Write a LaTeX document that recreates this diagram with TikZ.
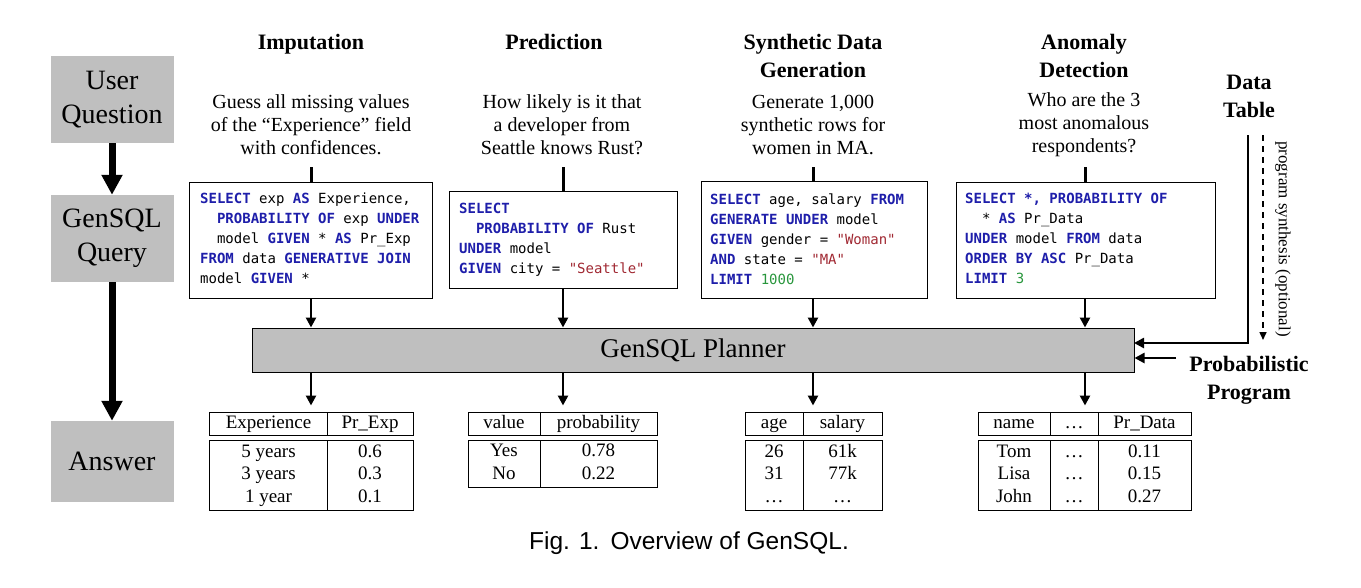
\documentclass[tikz,border=0pt]{standalone}
\usepackage{fontspec}
\setmainfont{Liberation Serif}
\setmonofont{DejaVu Sans Mono}
\newfontfamily\capfont{Liberation Sans}
\usetikzlibrary{arrows.meta}
\definecolor{boxgray}{RGB}{191,191,191}
\definecolor{kwblue}{RGB}{30,30,170}
\definecolor{strred}{RGB}{160,40,50}
\definecolor{numgreen}{RGB}{40,150,60}
\newcommand\kw[1]{\textcolor{kwblue}{\textbf{#1}}}
\newcommand\sqlstr[1]{\textcolor{strred}{#1}}
\newcommand\numc[1]{\textcolor{numgreen}{#1}}
\tikzset{
  lbox/.style={fill=boxgray, minimum width=123pt, inner sep=0, font=\fontsize{28}{34}\selectfont, align=center},
  ttl/.style={font=\fontsize{22}{28}\selectfont\bfseries, align=center},
  question/.style={font=\fontsize{20}{23}\selectfont, align=center},
  codebox/.style={draw, line width=1pt, inner sep=0},
  code/.style={anchor=north west, inner sep=0, align=left, font=\fontsize{14}{20}\selectfont\ttfamily},
  bigarr/.style={line width=7pt, -{Triangle[length=20pt,width=20pt]}},
  arr/.style={line width=2.8pt, -{Triangle[length=10pt,width=10pt]}},
  tickline/.style={line width=3pt},
  cell/.style={draw, line width=1pt, inner sep=0, font=\fontsize{19}{22.5}\selectfont, align=center},
  hcell/.style={cell, minimum height=23pt, text height=13pt, text depth=4pt},
}
\begin{document}
\begin{tikzpicture}[x=1pt,y=-1pt]
\useasboundingbox (0,0) rectangle (1361,587);

% left column
\node[lbox, minimum height=87pt] (uq) at (112,99.5) {User\\Question};
\node[lbox, minimum height=87pt] (gq) at (112,238.5) {GenSQL\\Query};
\node[lbox, minimum height=81pt] (ans) at (112,461.5) {Answer};
\draw[bigarr] (uq.south) -- (gq.north);
\draw[bigarr] (gq.south) -- (ans.north);

% titles
\node[ttl, anchor=base] (t1) at (311,49) {Imputation};
\node[ttl, anchor=base] (t2) at (554,49) {Prediction};
\node[ttl] (t3) at (813,56) {Synthetic Data\\Generation};
\node[ttl] (t4) at (1084,56) {Anomaly\\Detection};

% questions
\node[question] (q1) at (311,125) {Guess all missing values\\of the ``Experience'' field\\with confidences.};
\node[question] (q2) at (562,125) {How likely is it that\\a developer from\\Seattle knows Rust?};
\node[question] (q3) at (813,125) {Generate 1,000\\synthetic rows for\\women in MA.};
\node[question] (q4) at (1084,125) {Who are the 3\\most anomalous\\respondents?};

% code boxes
\node[codebox, minimum width=243pt, minimum height=116pt] (c1) at (310.5,240) {};
\node[codebox, minimum width=228pt, minimum height=97pt] (c2) at (563,239.5) {};
\node[codebox, minimum width=226pt, minimum height=117pt] (c3) at (814,239.5) {};
\node[codebox, minimum width=259pt, minimum height=116pt] (c4) at (1085.5,240) {};

\node[code] (k1) at (200,193) {\kw{SELECT} exp \kw{AS} Experience,\\
\hphantom{xx}\kw{PROBABILITY OF} exp \kw{UNDER}\\
\hphantom{xx}model \kw{GIVEN} * \kw{AS} Pr\_Exp\\
\kw{FROM} data \kw{GENERATIVE JOIN}\\
model \kw{GIVEN} *};
\node[code] (k2) at (459,203) {\kw{SELECT}\\
\hphantom{xx}\kw{PROBABILITY OF} Rust\\
\kw{UNDER} model\\
\kw{GIVEN} city = \sqlstr{"Seattle"}};
\node[code] (k3) at (710,193.5) {\kw{SELECT} age, salary \kw{FROM}\\
\kw{GENERATE UNDER} model\\
\kw{GIVEN} gender = \sqlstr{"Woman"}\\
\kw{AND} state = \sqlstr{"MA"}\\
\kw{LIMIT} \numc{1000}};
\node[code] (k4) at (965,193) {\kw{SELECT *, PROBABILITY OF}\\
\hphantom{xx}* \kw{AS} Pr\_Data\\
\kw{UNDER} model \kw{FROM} data\\
\kw{ORDER BY ASC} Pr\_Data\\
\kw{LIMIT} \numc{3}};

% ticks
\coordinate (tk1) at (311,167);
\coordinate (tk2) at (563,167);
\coordinate (tk3) at (813,167);
\coordinate (tk4) at (1085,167);
\draw[tickline] (tk1) -- (tk1 |- c1.north);
\draw[tickline] (tk2) -- (tk2 |- c2.north);
\draw[tickline] (tk3) -- (tk3 |- c3.north);
\draw[tickline] (tk4) -- (tk4 |- c4.north);

% planner
\node[draw, line width=1pt, fill=boxgray, minimum width=882pt, minimum height=44pt, inner sep=0,
      font=\fontsize{27}{30}\selectfont] (pl) at (693,350) {GenSQL Planner};

\draw[arr] (tk1 |- c1.south) -- (tk1 |- pl.north);
\draw[arr] (tk2 |- c2.south) -- (tk2 |- pl.north);
\draw[arr] (tk3 |- c3.south) -- (tk3 |- pl.north);
\draw[arr] (tk4 |- c4.south) -- (tk4 |- pl.north);

% tables: imputation
\node[hcell, minimum width=118pt] (a1h1) at (268.5,423.5) {Experience};
\node[hcell, minimum width=86pt] (a1h2) at (370,423.5) {Pr\_Exp};
\node[cell, minimum width=118pt, minimum height=70pt] (a1b1) at (268.5,475) {\strut 5 years\\\strut 3 years\\\strut 1 year};
\node[cell, minimum width=86pt, minimum height=70pt] (a1b2) at (370,475) {\strut 0.6\\\strut 0.3\\\strut 0.1};
% prediction
\node[hcell, minimum width=72pt] (a2h1) at (504,423.5) {value};
\node[hcell, minimum width=117pt] (a2h2) at (598.5,423.5) {probability};
\node[cell, minimum width=72pt, minimum height=47pt] (a2b1) at (504,463.5) {\strut Yes\\\strut No};
\node[cell, minimum width=117pt, minimum height=47pt] (a2b2) at (598.5,463.5) {\strut 0.78\\\strut 0.22};
% synthetic
\node[hcell, minimum width=58pt] (a3h1) at (774,423.5) {age};
\node[hcell, minimum width=79pt] (a3h2) at (842.5,423.5) {salary};
\node[cell, minimum width=58pt, minimum height=70pt] (a3b1) at (774,475) {\strut 26\\\strut 31\\\strut\dots};
\node[cell, minimum width=79pt, minimum height=70pt] (a3b2) at (842.5,475) {\strut 61k\\\strut 77k\\\strut\dots};
% anomaly
\node[hcell, minimum width=72pt] (a4h1) at (1014,423.5) {name};
\node[hcell, minimum width=48pt] (a4h2) at (1074,423.5) {\dots};
\node[hcell, minimum width=93pt] (a4h3) at (1144.5,423.5) {Pr\_Data};
\node[cell, minimum width=72pt, minimum height=70pt] (a4b1) at (1014,475) {\strut Tom\\\strut Lisa\\\strut John};
\node[cell, minimum width=48pt, minimum height=70pt] (a4b2) at (1074,475) {\strut\dots\\\strut\dots\\\strut\dots};
\node[cell, minimum width=93pt, minimum height=70pt] (a4b3) at (1144.5,475) {\strut 0.11\\\strut 0.15\\\strut 0.27};

\draw[arr, shorten >=6pt] (tk1 |- pl.south) -- (tk1 |- a1h1.north);
\draw[arr, shorten >=6pt] (tk2 |- pl.south) -- (tk2 |- a2h2.north);
\draw[arr, shorten >=6pt] (tk3 |- pl.south) -- (tk3 |- a3h2.north);
\draw[arr, shorten >=6pt] (tk4 |- pl.south) -- (tk4 |- a4h2.north);

% right side
\node[ttl] (dt) at (1249,96) {Data\\Table};
\node[ttl] (pp) at (1249,380) {Probabilistic\\Program};
\coordinate (dtl) at (1248,135);
\coordinate (dtd) at (1263,135);
\coordinate (pin1) at (1134,343);
\coordinate (pin2) at (1176,358);
\draw[arr] (dtl) |- (pin1);
\draw[arr] (pin2) -- (pin2 -| pl.east);
\draw[line width=1.5pt, dash pattern=on 6pt off 5pt, -{Triangle[length=8pt,width=7pt]}] (dtd) -- ++(0,205);
\node[rotate=-90, font=\fontsize{17}{20}\selectfont] (ps) at (1283,239) {program synthesis (optional)};

% caption
\node[font=\capfont\fontsize{24.5}{28}\selectfont] (cap) at (689,543) {Fig. 1.\hspace{0.45em}Overview of GenSQL.};
\end{tikzpicture}
\end{document}
